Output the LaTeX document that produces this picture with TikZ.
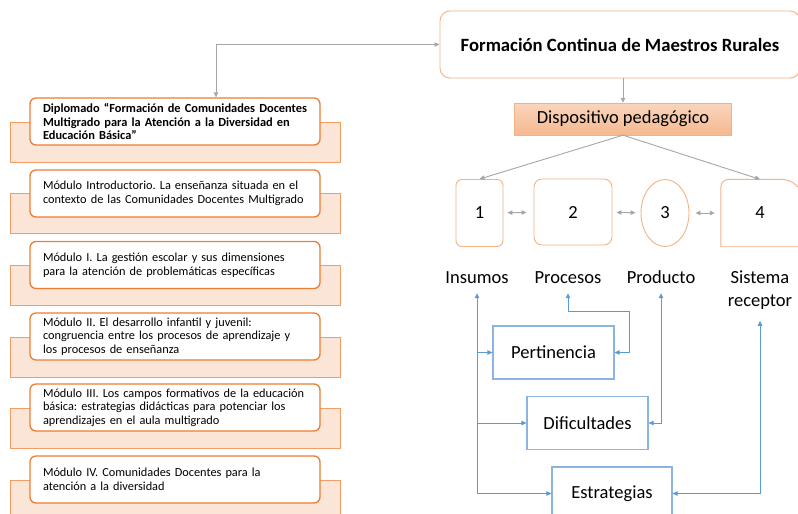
\documentclass[tikz,border=0pt]{standalone}
\usepackage{fontspec}
\setmainfont{Carlito}
\usepackage{tikz}
\usepackage{xcolor}
\usetikzlibrary{shapes}
\usetikzlibrary{positioning}
\usetikzlibrary{arrows.meta}
\definecolor{naranja}{HTML}{ED7D31}
\definecolor{naranjaclaro}{HTML}{F4B183}
\definecolor{salmon}{HTML}{FBE5D6}
\definecolor{durazno}{HTML}{F8CBAD}
\definecolor{gris}{HTML}{A6A6A6}
\definecolor{azul}{HTML}{5B9BD5}
\definecolor{azulclaro}{HTML}{8DB3E2}
\frenchspacing

\begin{document}
\begin{tikzpicture}[x=1pt,y=-1pt,>={Triangle[length=5pt,width=4.5pt]}]
        \tikzstyle{franja}=[draw=naranja!75,fill=salmon,minimum width=330pt,minimum height=40pt,inner sep=0pt]
        \tikzstyle{modulo}=[rectangle,rounded corners=6pt,draw=naranja,line width=1.3pt,fill=white,text width=264pt,inner xsep=13pt,inner ysep=0pt,minimum height=47pt,align=left,font=\fontsize{12.3}{13.5}\selectfont]
        \tikzstyle{etapa}=[draw=naranjaclaro,line width=0.9pt,font=\fontsize{18.5}{22}\selectfont]
        \tikzstyle{etiqueta}=[font=\fontsize{18.5}{23.5}\selectfont,text height=13pt,text depth=4pt,inner ysep=6pt]
        \tikzstyle{criterio}=[draw=azulclaro,line width=1.2pt,minimum width=121pt,minimum height=53pt,font=\fontsize{18.5}{22}\selectfont]
        \tikzstyle{flecha}=[draw=gris,line width=0.9pt]
        \tikzstyle{linea}=[draw=azul,line width=0.9pt]
        \useasboundingbox (0,0) rectangle (798,514);
        \clip (0,0) rectangle (798,514);
       \begin{scope}
         % diplomado y modulos
         \node [franja] (fdipl) at (175,142) {};
         \node [franja] (fintro) at (175,213) {};
         \node [franja] (fi) at (175,285) {};
         \node [franja] (fii) at (175,357) {};
         \node [franja] (fiii) at (175,428) {};
         \node [franja] (fiv) at (175,500) {};
         \node [modulo,font=\bfseries\fontsize{12.4}{13.5}\selectfont] (dipl) at (175,121.5) {\mbox{Diplomado “Formación de Comunidades Docentes}\\Multigrado para la Atención a la Diversidad en\\Educación Básica”};
         \node [modulo] (mintro) at (175,193.5) {Módulo Introductorio. La enseñanza situada en el\\contexto de las Comunidades Docentes Multigrado};
         \node [modulo] (mi) at (175,265) {Módulo I. La gestión escolar y sus dimensiones\\para la atención de problemáticas específicas};
         \node [modulo] (mii) at (175,336.5) {Módulo II. El desarrollo infantil y juvenil:\\congruencia entre los procesos de aprendizaje y\\los procesos de enseñanza};
         \node [modulo] (miii) at (175,407.5) {Módulo III. Los campos formativos de la educación\\básica: estrategias didácticas para potenciar los\\aprendizajes en el aula multigrado};
         \node [modulo] (miv) at (175,479.5) {Módulo IV. Comunidades Docentes para la\\atención a la diversidad};
        \end{scope}
       \begin{scope}
         % formacion y dispositivo
         \node [draw=naranjaclaro,line width=0.9pt,rounded corners=10pt,minimum width=360pt,minimum height=67pt,font=\bfseries\fontsize{18.7}{22}\selectfont] (formacion) at (620,44.5) {Formación Continua de Maestros Rurales};
         \node [draw=naranjaclaro,top color=durazno!80,bottom color=naranjaclaro!90,minimum width=217pt,minimum height=32pt,font=\fontsize{18.5}{22}\selectfont] (dispositivo) at (623,119) {Dispositivo pedagógico};
         \coordinate (esquina) at (216,45);
         \path[flecha,<->] (dipl.north -| esquina) |- (formacion.west);
         \path[flecha,->] (formacion.south -| dispositivo.north) -- (dispositivo.north);
         % etapas
         \node [etapa,rounded corners=6pt,minimum width=47pt,minimum height=67pt] (n1) at (479.5,213) {1};
         \node [etapa,rounded corners=8pt,minimum width=78pt,minimum height=66pt] (n2) at (573,212) {2};
         \node [etapa,ellipse,minimum width=48pt,minimum height=67pt] (n3) at (665,213) {3};
         \node [font=\fontsize{18.5}{22}\selectfont,minimum width=78pt,minimum height=67pt] (n4) at (760,213) {4};
         \draw [naranjaclaro,line width=0.9pt] (n4.south west) [rounded corners=8pt] -- (n4.north west) -- ([xshift=-9pt]n4.north east) [sharp corners] -- ([yshift=-9pt]n4.north east) -- (n4.south east) -- cycle;
         \path[flecha,->] (dispositivo.south) -- (n1.north);
         \path[flecha,->] (dispositivo.south) -- (n4.north);
         \path[flecha,<->,shorten <=4pt,shorten >=7pt] (n1) -- (n2);
         \path[flecha,<->,shorten <=4pt,shorten >=5pt] (n2) -- (n3);
         \path[flecha,<->,shorten <=6pt,shorten >=6pt] (n3) -- (n4);
         \node [etiqueta] (ins) at (477,278.5) {Insumos};
         \node [etiqueta] (proc) at (568,278.5) {Procesos};
         \node [etiqueta] (prod) at (661,278.5) {Producto};
         \node [font=\fontsize{18.5}{23.5}\selectfont,align=center,inner ysep=11pt] (sis) at (760,290) {Sistema\\receptor};
        \end{scope}
       \begin{scope}
         % criterios
         \node [criterio] (pert) at (553.5,352.5) {Pertinencia};
         \node [criterio] (dif) at (587.5,423) {Dificultades};
         \node [criterio,minimum width=120pt] (est) at (612,493.5) {Estrategias};
         \coordinate (codo) at (629,311);
         \path[linea,<->] (ins.south) |- (est.west);
         \path[linea,->] (ins.south |- pert.west) -- (pert.west);
         \path[linea,->] (ins.south |- dif.west) -- (dif.west);
         \path[linea,<->] (proc.south) |- (codo) |- (pert.east);
         \path[linea,<->] (prod.south) |- (dif.east);
         \path[linea,<->] (sis.south) |- (est.east);
        \end{scope}
      \end{tikzpicture}
\end{document}
